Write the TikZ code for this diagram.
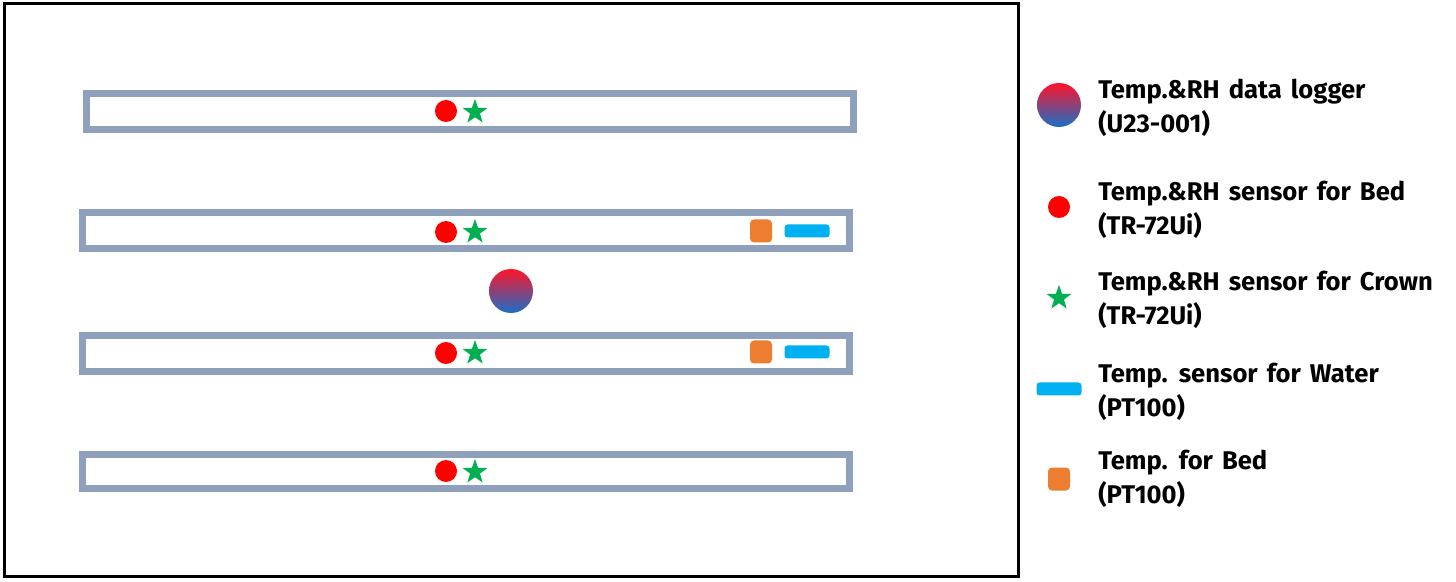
\documentclass[tikz,border=0pt]{standalone}
\usepackage{fontspec}
\setmainfont{Fira Sans}[WordSpace=1.5]
\usetikzlibrary{shapes.geometric}
\definecolor{barblue}{RGB}{143,160,188}
\definecolor{dotred}{RGB}{255,0,0}
\definecolor{stargreen}{RGB}{0,176,80}
\definecolor{waterblue}{RGB}{0,176,240}
\definecolor{bedorange}{RGB}{237,125,49}
\definecolor{logtop}{RGB}{255,20,40}
\definecolor{logbot}{RGB}{25,110,200}
\tikzset{
  bar/.style={draw=barblue, line width=3.5pt},
  frame/.style={draw=black, line width=1.5pt},
  reddot/.style={circle, fill=dotred, minimum size=11pt, inner sep=0pt},
  greenstar/.style={star, star points=5, star point ratio=2.5, fill=stargreen, minimum size=13pt, inner sep=0pt},
  logger/.style={circle, top color=logtop, bottom color=logbot, minimum size=22pt, inner sep=0pt},
  orangesq/.style={rectangle, rounded corners=2pt, fill=bedorange, minimum width=11pt, minimum height=11.5pt, inner sep=0pt},
  bluebar/.style={rectangle, rounded corners=1.5pt, fill=waterblue, minimum width=22.5pt, minimum height=6.5pt, inner sep=0pt},
  legtext/.style={anchor=west, align=left, font=\fontsize{12.8}{17}\selectfont\bfseries, inner sep=0pt}
}
\begin{document}
\begin{tikzpicture}[x=0.5pt,y=-0.5pt]
\useasboundingbox (0,0) rectangle (1456,582);
% outer frame
\draw[frame] (4,4) rectangle (1018,576);
% beds
\draw[bar] (86.5,93.5) rectangle (853.5,129.5);
\draw[bar] (82.5,212.5) rectangle (849.5,248.5);
\draw[bar] (82.5,335.5) rectangle (849.5,371.5);
\draw[bar] (82.5,454.5) rectangle (849.5,488.5);
% sensors
\node[reddot] (d1) at (446,111) {};
\node[greenstar] (s1) at (475,112) {};
\node[reddot] (d2) at (446,232) {};
\node[greenstar] (s2) at (475,232) {};
\node[reddot] (d3) at (446,353) {};
\node[greenstar] (s3) at (475,353) {};
\node[reddot] (d4) at (446,471) {};
\node[greenstar] (s4) at (475,472) {};
\node[orangesq] (o2) at (761,231) {};
\node[bluebar] (w2) at (807,231) {};
\node[orangesq] (o3) at (761,352) {};
\node[bluebar] (w3) at (807,352) {};
\node[logger] (lg) at (511,291) {};
% legend
\node[logger] (Llg) at (1059,105) {};
\node[legtext] (T1) at (1098,108) {Temp.\&RH data logger\\(U23-001)};
\node[reddot] (Ld) at (1059,207) {};
\node[legtext] (T2) at (1098,210) {Temp.\&RH sensor for Bed\\(TR-72Ui)};
\node[greenstar] (Ls) at (1059,298) {};
\node[legtext] (T3) at (1098,300) {Temp.\&RH sensor for Crown\\(TR-72Ui)};
\node[bluebar] (Lw) at (1059,389) {};
\node[legtext] (T4) at (1098,392) {Temp. sensor for Water\\(PT100)};
\node[orangesq] (Lo) at (1059,479) {};
\node[legtext] (T5) at (1098,479) {Temp. for Bed\\(PT100)};
\end{tikzpicture}
\end{document}
